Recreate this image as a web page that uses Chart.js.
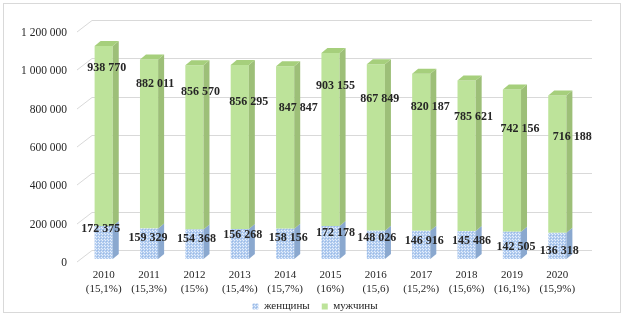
<!DOCTYPE html>
<html>
<head>
<meta charset="utf-8">
<script src="https://cdn.jsdelivr.net/npm/chart.js@4.4.0/dist/chart.umd.min.js"></script>
<style>
html, body { margin: 0; padding: 0; background: #fff; }
canvas { display: block; }
</style>
</head>
<body>
<canvas id="myChart" width="624" height="316"></canvas>
<script>
// data
var years = ['2010', '2011', '2012', '2013', '2014', '2015', '2016', '2017', '2018', '2019', '2020'];
var shares = ['(15,1%)', '(15,3%)', '(15%)', '(15,4%)', '(15,7%)', '(16%)', '(15,6)', '(15,2%)', '(15,6%)', '(16,1%)', '(15,9%)'];
var women = [172375, 159329, 154368, 156268, 158156, 172178, 148026, 146916, 145486, 142505, 136318];
var men = [938770, 882011, 856570, 856295, 847847, 903155, 867849, 820187, 785621, 742156, 716188];
var yTicks = [0, 200000, 400000, 600000, 800000, 1000000, 1200000];

// where the value labels sit, relative to the top of each bar (px)
var menLabelDx = [3, 6, 6, 9, 13, 5, 4, 9, 7, 8, 15];
var menLabelDy = [22, 24, 27, 37, 42, 33, 35, 33, 36, 39, 41];
var womenLabelDx = [-3, -1, 2, 3, 3, 5, 1, 3, 5, 4, 2];
var womenLabelDy = [3, 9, 9, 6, 9, 7, 7, 10, 10, 15, 18];

var SERIF = '"Liberation Serif", "Times New Roman", serif';

function spaced(v) {
    return String(v).replace(/\B(?=(\d{3})+(?!\d))/g, ' ');
}

// dotted blue fill for women
function dotPattern() {
    var c = document.createElement('canvas');
    c.width = 3; c.height = 3;
    var g = c.getContext('2d');
    g.fillStyle = '#b3cdf0';
    g.fillRect(0, 0, 3, 3);
    g.fillStyle = 'rgba(255,255,255,0.7)';
    g.fillRect(0, 0, 1, 1);
    g.fillRect(2, 2, 1, 1);
    g.fillStyle = 'rgba(130,165,215,0.5)';
    g.fillRect(1, 1, 1, 1);
    return g.createPattern(c, 'repeat');
}

var DX = 6, DY = 5;

var frame3d = {
    id: 'frame3d',
    afterLayout: function (chart) {
        // let the tick labels spill outside their boxes instead of being clipped
        chart.scales.y.left = 0;
        chart.scales.x.bottom = chart.height;
    },
    beforeDraw: function (chart) {
        var ctx = chart.ctx;
        ctx.save();
        ctx.fillStyle = '#fff';
        ctx.fillRect(0, 0, chart.width, chart.height);
        ctx.strokeStyle = '#d9d9d9';
        ctx.lineWidth = 1;
        ctx.strokeRect(3.5, 3.5, chart.width - 7, chart.height - 7);
        ctx.restore();
    },
    beforeDatasetsDraw: function (chart) {
        var ctx = chart.ctx, a = chart.chartArea, y = chart.scales.y;
        ctx.save();
        ctx.strokeStyle = '#d9d9d9';
        ctx.lineWidth = 1;
        yTicks.forEach(function (v) {
            var py = Math.round(y.getPixelForValue(v)) + 0.5;
            ctx.beginPath();
            ctx.moveTo(a.left - 4, py + 2.5);
            ctx.lineTo(a.left + 11, py - 9);
            ctx.lineTo(a.right + 12, py - 9);
            ctx.stroke();
        });
        ctx.restore();
    },
    afterDatasetsDraw: function (chart) {
        var ctx = chart.ctx;
        var sideColors = ['#8aa8cf', '#9dbf78'];
        ctx.save();
        chart.data.datasets.forEach(function (ds, di) {
            var meta = chart.getDatasetMeta(di);
            meta.data.forEach(function (el) {
                var l = el.x - el.width / 2, r = el.x + el.width / 2;
                ctx.fillStyle = sideColors[di];
                ctx.beginPath();
                ctx.moveTo(r, el.y);
                ctx.lineTo(r + DX, el.y - DY);
                ctx.lineTo(r + DX, el.base - DY);
                ctx.lineTo(r, el.base);
                ctx.closePath();
                ctx.fill();
                if (di === 1) {
                    ctx.fillStyle = '#a6cf7c';
                    ctx.beginPath();
                    ctx.moveTo(l, el.y);
                    ctx.lineTo(l + DX, el.y - DY);
                    ctx.lineTo(r + DX, el.y - DY);
                    ctx.lineTo(r, el.y);
                    ctx.closePath();
                    ctx.fill();
                }
            });
        });

        // value labels
        ctx.font = 'bold 12px ' + SERIF;
        ctx.fillStyle = '#262626';
        ctx.textAlign = 'center';
        ctx.textBaseline = 'middle';
        chart.getDatasetMeta(0).data.forEach(function (el, i) {
            ctx.fillText(spaced(women[i]), el.x + womenLabelDx[i], el.y + womenLabelDy[i]);
        });
        chart.getDatasetMeta(1).data.forEach(function (el, i) {
            ctx.fillText(spaced(men[i]), el.x + menLabelDx[i], el.y + menLabelDy[i]);
        });
        ctx.restore();
    }
};

const GRAPH = document.getElementById('myChart');
const barGraph = new Chart(GRAPH, {
    type: 'bar',
    data: {
        labels: years.map(function (y, i) { return [y, shares[i]]; }),
        datasets: [{
            label: 'женщины',
            data: women,
            backgroundColor: dotPattern(),
            borderWidth: 0
        }, {
            label: 'мужчины',
            data: men,
            backgroundColor: '#bde39a',
            borderWidth: 0
        }]
    },
    options: {
        responsive: false,
        animation: false,
        events: [],
        layout: { padding: { left: 50, right: 44, top: 29, bottom: -6 } },
        datasets: { bar: { categoryPercentage: 1, barPercentage: 0.4 } },
        scales: {
            x: {
                stacked: true,
                grid: { display: false },
                border: { display: false },
                ticks: { color: '#262626', font: { family: SERIF, size: 11 }, padding: 2, maxRotation: 0 },
                afterFit: function (s) { s.height = 30; }
            },
            y: {
                stacked: true,
                min: 0,
                max: 1200000,
                grid: { display: false },
                border: { display: false },
                afterBuildTicks: function (s) { s.ticks = yTicks.map(function (v) { return { value: v }; }); },
                ticks: {
                    color: '#262626',
                    font: { family: SERIF, size: 11.5 },
                    padding: 6,
                    labelOffset: 4,
                    callback: function (v) { return spaced(v); }
                },
                afterFit: function (s) { s.width = 31; }
            }
        },
        plugins: {
            tooltip: { enabled: false },
            legend: {
                position: 'bottom',
                labels: {
                    color: '#262626',
                    font: { family: SERIF, size: 11 },
                    boxWidth: 6,
                    boxHeight: 6,
                    padding: 12
                }
            }
        }
    },
    plugins: [frame3d]
});
</script>
</body>
</html>
